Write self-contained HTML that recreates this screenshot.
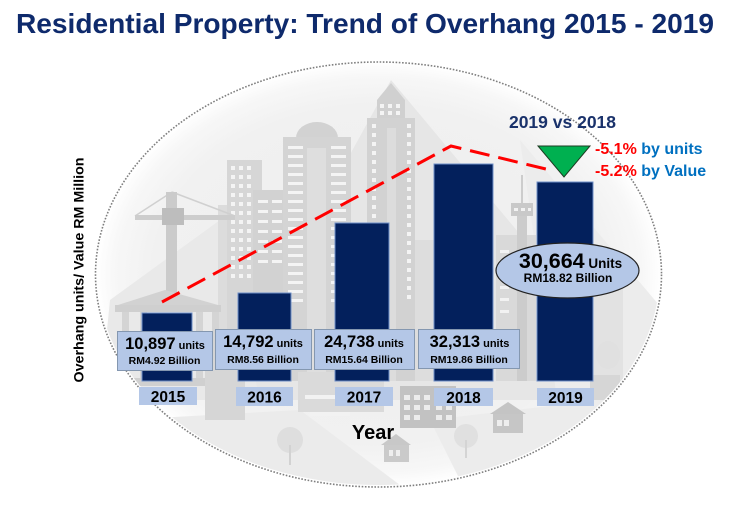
<!DOCTYPE html>
<html>
<head>
<meta charset="utf-8">
<style>
html,body{margin:0;padding:0;background:#ffffff;}
svg{display:block;}
text{font-family:"Liberation Sans",Arial,sans-serif;font-weight:bold;}
</style>
</head>
<body>
<svg width="742" height="506" viewBox="0 0 742 506" xmlns="http://www.w3.org/2000/svg">
<defs>
  <radialGradient id="bg" cx="0.5" cy="0.5" r="0.5">
    <stop offset="0" stop-color="#eeeeee"/>
    <stop offset="0.8" stop-color="#f1f1f1"/>
    <stop offset="0.93" stop-color="#f7f7f7"/>
    <stop offset="1" stop-color="#ffffff"/>
  </radialGradient>
  <clipPath id="clip"><ellipse cx="378.5" cy="274.5" rx="281" ry="210.5"/></clipPath>
</defs>

<!-- title -->
<text x="16" y="33" font-size="28" fill="#0e2a6c" textLength="698" lengthAdjust="spacingAndGlyphs">Residential Property: Trend of Overhang 2015 - 2019</text>

<!-- background ellipse -->
<ellipse cx="378.5" cy="274.5" rx="283" ry="212.5" fill="url(#bg)"/>

<g clip-path="url(#clip)">
  <!-- pale mountain / shadow shapes -->
  <polygon points="391,80 575,300 575,400 220,400 270,300" fill="#e6e6e6"/>
  <polygon points="520,140 680,330 680,420 560,420" fill="#ececec"/>
  <polygon points="110,300 220,220 260,400 100,400" fill="#e9e9e9"/>
  <polygon points="120,420 300,410 420,500 150,500" fill="#ebebeb"/>
  <polygon points="430,420 600,400 640,500 470,500" fill="#ececec"/>

  <!-- left tall building -->
  <rect x="218" y="205" width="24" height="176" fill="#dcdcdc"/>
  <rect x="227" y="160" width="35" height="221" fill="#d6d6d6"/>
  <rect x="253" y="190" width="34" height="191" fill="#d2d2d2"/>
  <g fill="#f4f4f4">
    <rect x="231" y="166" width="4" height="4"/><rect x="239" y="166" width="4" height="4"/><rect x="247" y="166" width="4" height="4"/>
    <rect x="231" y="175" width="4" height="4"/><rect x="239" y="175" width="4" height="4"/><rect x="247" y="175" width="4" height="4"/>
    <rect x="231" y="184" width="4" height="4"/><rect x="239" y="184" width="4" height="4"/><rect x="247" y="184" width="4" height="4"/>
    <rect x="231" y="193" width="4" height="4"/><rect x="239" y="193" width="4" height="4"/><rect x="247" y="193" width="4" height="4"/>
    <rect x="231" y="202" width="4" height="4"/><rect x="239" y="202" width="4" height="4"/><rect x="247" y="202" width="4" height="4"/>
    <rect x="231" y="211" width="4" height="4"/><rect x="239" y="211" width="4" height="4"/><rect x="247" y="211" width="4" height="4"/>
    <rect x="231" y="220" width="4" height="4"/><rect x="239" y="220" width="4" height="4"/><rect x="247" y="220" width="4" height="4"/>
    <rect x="231" y="229" width="4" height="4"/><rect x="239" y="229" width="4" height="4"/><rect x="247" y="229" width="4" height="4"/>
    <rect x="231" y="238" width="4" height="4"/><rect x="239" y="238" width="4" height="4"/><rect x="247" y="238" width="4" height="4"/>
    <rect x="231" y="247" width="4" height="4"/><rect x="239" y="247" width="4" height="4"/><rect x="247" y="247" width="4" height="4"/>
    <rect x="231" y="256" width="4" height="4"/><rect x="239" y="256" width="4" height="4"/><rect x="247" y="256" width="4" height="4"/>
    <rect x="231" y="265" width="4" height="4"/><rect x="239" y="265" width="4" height="4"/><rect x="247" y="265" width="4" height="4"/>
    <rect x="231" y="274" width="4" height="4"/><rect x="239" y="274" width="4" height="4"/><rect x="247" y="274" width="4" height="4"/>
    <rect x="258" y="200" width="10" height="3"/><rect x="272" y="200" width="10" height="3"/>
    <rect x="258" y="210" width="10" height="3"/><rect x="272" y="210" width="10" height="3"/>
    <rect x="258" y="220" width="10" height="3"/><rect x="272" y="220" width="10" height="3"/>
    <rect x="258" y="230" width="10" height="3"/><rect x="272" y="230" width="10" height="3"/>
    <rect x="258" y="240" width="10" height="3"/><rect x="272" y="240" width="10" height="3"/>
    <rect x="258" y="250" width="10" height="3"/><rect x="272" y="250" width="10" height="3"/>
    <rect x="258" y="260" width="10" height="3"/><rect x="272" y="260" width="10" height="3"/>
  </g>

  <!-- dome building -->
  <ellipse cx="317" cy="138" rx="21" ry="16" fill="#d2d2d2"/>
  <rect x="283" y="137" width="68" height="244" fill="#d4d4d4"/>
  <rect x="307" y="148" width="19" height="233" fill="#dedede"/>
  <g fill="#f4f4f4">
    <rect x="288" y="146" width="15" height="3"/><rect x="331" y="146" width="15" height="3"/>
    <rect x="288" y="155" width="15" height="3"/><rect x="331" y="155" width="15" height="3"/>
    <rect x="288" y="164" width="15" height="3"/><rect x="331" y="164" width="15" height="3"/>
    <rect x="288" y="173" width="15" height="3"/><rect x="331" y="173" width="15" height="3"/>
    <rect x="288" y="182" width="15" height="3"/><rect x="331" y="182" width="15" height="3"/>
    <rect x="288" y="191" width="15" height="3"/><rect x="331" y="191" width="15" height="3"/>
    <rect x="288" y="200" width="15" height="3"/><rect x="331" y="200" width="15" height="3"/>
    <rect x="288" y="209" width="15" height="3"/><rect x="331" y="209" width="15" height="3"/>
    <rect x="288" y="218" width="15" height="3"/><rect x="331" y="218" width="15" height="3"/>
    <rect x="288" y="227" width="15" height="3"/><rect x="331" y="227" width="15" height="3"/>
    <rect x="288" y="236" width="15" height="3"/><rect x="331" y="236" width="15" height="3"/>
    <rect x="288" y="245" width="15" height="3"/><rect x="331" y="245" width="15" height="3"/>
    <rect x="288" y="254" width="15" height="3"/><rect x="331" y="254" width="15" height="3"/>
    <rect x="288" y="263" width="15" height="3"/><rect x="331" y="263" width="15" height="3"/>
    <rect x="288" y="272" width="15" height="3"/><rect x="331" y="272" width="15" height="3"/>
    <rect x="288" y="281" width="15" height="3"/><rect x="331" y="281" width="15" height="3"/>
    <rect x="288" y="290" width="15" height="3"/><rect x="331" y="290" width="15" height="3"/>
    <rect x="288" y="299" width="15" height="3"/><rect x="331" y="299" width="15" height="3"/>
  </g>

  <!-- tallest building -->
  <polygon points="377,100 391,83 405,100" fill="#d0d0d0"/>
  <rect x="377" y="100" width="28" height="18" fill="#d0d0d0"/>
  <rect x="367" y="118" width="48" height="263" fill="#d2d2d2"/>
  <rect x="387" y="128" width="9" height="253" fill="#dcdcdc"/>
  <g fill="#f4f4f4">
    <rect x="380" y="104" width="4" height="4"/><rect x="388" y="104" width="4" height="4"/><rect x="396" y="104" width="4" height="4"/>
    <rect x="380" y="111" width="4" height="4"/><rect x="388" y="111" width="4" height="4"/><rect x="396" y="111" width="4" height="4"/>
    <rect x="372" y="124" width="4" height="4"/><rect x="407" y="124" width="4" height="4"/>
    <rect x="372" y="133" width="4" height="4"/><rect x="407" y="133" width="4" height="4"/>
    <rect x="372" y="142" width="4" height="4"/><rect x="407" y="142" width="4" height="4"/>
    <rect x="372" y="151" width="4" height="4"/><rect x="407" y="151" width="4" height="4"/>
    <rect x="372" y="160" width="4" height="4"/><rect x="407" y="160" width="4" height="4"/>
    <rect x="372" y="169" width="4" height="4"/><rect x="407" y="169" width="4" height="4"/>
    <rect x="372" y="178" width="4" height="4"/><rect x="407" y="178" width="4" height="4"/>
    <rect x="372" y="187" width="4" height="4"/><rect x="407" y="187" width="4" height="4"/>
    <rect x="372" y="196" width="4" height="4"/><rect x="407" y="196" width="4" height="4"/>
    <rect x="372" y="205" width="4" height="4"/><rect x="407" y="205" width="4" height="4"/>
    <rect x="372" y="214" width="4" height="4"/><rect x="407" y="214" width="4" height="4"/>
    <rect x="372" y="223" width="4" height="4"/><rect x="407" y="223" width="4" height="4"/>
    <rect x="372" y="232" width="4" height="4"/><rect x="407" y="232" width="4" height="4"/>
    <rect x="372" y="241" width="4" height="4"/><rect x="407" y="241" width="4" height="4"/>
    <rect x="372" y="250" width="4" height="4"/><rect x="407" y="250" width="4" height="4"/>
    <rect x="372" y="259" width="4" height="4"/><rect x="407" y="259" width="4" height="4"/>
    <rect x="372" y="268" width="4" height="4"/><rect x="407" y="268" width="4" height="4"/>
    <rect x="372" y="277" width="4" height="4"/><rect x="407" y="277" width="4" height="4"/>
    <rect x="372" y="286" width="4" height="4"/><rect x="407" y="286" width="4" height="4"/>
    <rect x="372" y="295" width="4" height="4"/><rect x="407" y="295" width="4" height="4"/>
  </g>

  <!-- right side buildings -->
  <rect x="415" y="240" width="22" height="141" fill="#dddddd"/>
  <rect x="496" y="235" width="40" height="146" fill="#d9d9d9"/>
  <line x1="522" y1="175" x2="522" y2="203" stroke="#cccccc" stroke-width="2"/>
  <rect x="511" y="203" width="22" height="13" fill="#c9c9c9"/>
  <rect x="517" y="216" width="10" height="165" fill="#cccccc"/>
  <g fill="#f2f2f2">
    <rect x="514" y="208" width="4" height="3"/><rect x="521" y="208" width="4" height="3"/><rect x="528" y="208" width="3" height="3"/>
    <rect x="500" y="250" width="9" height="3"/><rect x="500" y="262" width="9" height="3"/><rect x="500" y="274" width="9" height="3"/>
    <rect x="500" y="286" width="9" height="3"/><rect x="500" y="298" width="9" height="3"/><rect x="500" y="310" width="9" height="3"/>
  </g>
  <rect x="593" y="255" width="30" height="126" fill="#e2e2e2"/>

  <!-- crane -->
  <line x1="172" y1="192" x2="135" y2="216" stroke="#d0d0d0" stroke-width="1.5"/>
  <line x1="172" y1="192" x2="235" y2="216" stroke="#d0d0d0" stroke-width="1.5"/>
  <rect x="166" y="192" width="11" height="120" fill="#cbcbcb"/>
  <rect x="135" y="215" width="100" height="5" fill="#cdcdcd"/>
  <rect x="162" y="208" width="22" height="17" fill="#bdbdbd"/>

  <!-- classical building -->
  <polygon points="118,305 165,290 218,305" fill="#d2d2d2"/>
  <rect x="115" y="305" width="106" height="7" fill="#cfcfcf"/>
  <g fill="#d4d4d4">
    <rect x="122" y="312" width="7" height="70"/><rect x="140" y="312" width="7" height="70"/>
    <rect x="196" y="312" width="7" height="70"/><rect x="212" y="312" width="7" height="70"/>
  </g>
  <rect x="110" y="378" width="115" height="8" fill="#d0d0d0"/>

  <!-- low buildings bottom -->
  <rect x="205" y="360" width="40" height="60" fill="#d6d6d6"/>
  <rect x="298" y="372" width="86" height="40" fill="#dadada"/>
  <g fill="#f2f2f2">
    <rect x="305" y="395" width="30" height="4"/><rect x="340" y="395" width="30" height="4"/>
    <rect x="310" y="412" width="40" height="4"/>
  </g>
  <rect x="400" y="386" width="56" height="42" fill="#c2c2c2"/>
  <g fill="#ececec">
    <rect x="404" y="395" width="6" height="5"/><rect x="414" y="395" width="6" height="5"/><rect x="424" y="395" width="6" height="5"/>
    <rect x="404" y="405" width="6" height="5"/><rect x="414" y="405" width="6" height="5"/><rect x="424" y="405" width="6" height="5"/><rect x="436" y="405" width="6" height="5"/><rect x="446" y="405" width="6" height="5"/>
    <rect x="404" y="415" width="6" height="5"/><rect x="414" y="415" width="6" height="5"/><rect x="436" y="415" width="6" height="5"/><rect x="446" y="415" width="6" height="5"/>
  </g>
  <!-- houses -->
  <polygon points="490,414 508,402 526,414" fill="#c4c4c4"/>
  <rect x="493" y="414" width="30" height="19" fill="#c6c6c6"/>
  <rect x="497" y="420" width="5" height="6" fill="#eeeeee"/><rect x="504" y="420" width="5" height="6" fill="#eeeeee"/>
  <polygon points="381,445 396,434 411,445" fill="#c8c8c8"/>
  <rect x="384" y="445" width="25" height="17" fill="#cacaca"/>
  <rect x="389" y="450" width="4" height="6" fill="#eeeeee"/><rect x="396" y="450" width="4" height="6" fill="#eeeeee"/>
  <rect x="590" y="375" width="30" height="25" fill="#d6d6d6"/>
  <!-- trees -->
  <ellipse cx="290" cy="440" rx="13" ry="13" fill="#dedede"/>
  <rect x="289" y="445" width="2" height="20" fill="#d2d2d2"/>
  <ellipse cx="466" cy="436" rx="12" ry="12" fill="#e0e0e0"/>
  <rect x="465" y="440" width="2" height="18" fill="#d4d4d4"/>
  <ellipse cx="608" cy="355" rx="12" ry="14" fill="#e0e0e0"/>
  <ellipse cx="122" cy="442" rx="11" ry="11" fill="#e2e2e2"/>
</g>

<!-- dotted border -->
<ellipse cx="378.5" cy="274.5" rx="283" ry="212.5" fill="none" stroke="#7f7f7f" stroke-width="1.6" stroke-dasharray="1.6 1.6"/>

<!-- red dashed trend line -->
<polyline points="162,302 451,146 550,170" fill="none" stroke="#ff0000" stroke-width="3" stroke-dasharray="20 9"/>

<!-- bars -->
<g fill="#03205c" stroke="#6f8fc8" stroke-width="1">
  <rect x="142" y="313" width="50" height="68"/>
  <rect x="238" y="293" width="53" height="88"/>
  <rect x="335" y="223" width="54" height="158"/>
  <rect x="434" y="164" width="59" height="217"/>
  <rect x="537" y="182" width="56" height="199"/>
</g>

<!-- value boxes -->
<g fill="#b4c7e7" stroke="#8497b0" stroke-width="1">
  <rect x="117.5" y="331.5" width="95" height="39"/>
  <rect x="215.5" y="329.5" width="96" height="40"/>
  <rect x="314.5" y="329.5" width="100" height="40"/>
  <rect x="418.5" y="329.5" width="101" height="39"/>
</g>
<g fill="#000000" text-anchor="middle">
  <text x="165" y="349"><tspan font-size="16.5">10,897</tspan><tspan font-size="11"> units</tspan></text>
  <text x="164.5" y="364" font-size="10.5">RM4.92 Billion</text>
  <text x="263" y="347"><tspan font-size="16.5">14,792</tspan><tspan font-size="11"> units</tspan></text>
  <text x="263" y="363" font-size="10.5">RM8.56 Billion</text>
  <text x="364" y="347"><tspan font-size="16.5">24,738</tspan><tspan font-size="11"> units</tspan></text>
  <text x="364" y="363" font-size="10.5">RM15.64 Billion</text>
  <text x="469.5" y="347"><tspan font-size="16.5">32,313</tspan><tspan font-size="11"> units</tspan></text>
  <text x="469" y="363" font-size="10.5">RM19.86 Billion</text>
</g>

<!-- year boxes -->
<g fill="#b4c7e7">
  <rect x="139" y="387" width="58" height="18"/>
  <rect x="236" y="387" width="57" height="19"/>
  <rect x="335" y="387" width="58" height="19"/>
  <rect x="434" y="388" width="59" height="18"/>
  <rect x="537" y="388" width="57" height="18"/>
</g>
<g fill="#000000" text-anchor="middle" font-size="15.5">
  <text x="168" y="402">2015</text>
  <text x="264.5" y="402.5">2016</text>
  <text x="364" y="402.5">2017</text>
  <text x="463.5" y="403">2018</text>
  <text x="565.5" y="403">2019</text>
</g>

<!-- axis labels -->
<text x="373" y="439" font-size="20" fill="#000000" text-anchor="middle">Year</text>
<text transform="translate(83.5,270) rotate(-90)" font-size="13.5" fill="#000000" text-anchor="middle" textLength="225" lengthAdjust="spacingAndGlyphs">Overhang units/ Value RM Million</text>

<!-- 2019 ellipse label -->
<ellipse cx="567.5" cy="270.5" rx="71.5" ry="27.5" fill="#b4c7e7" stroke="#222222" stroke-width="1.2"/>
<text x="570.5" y="268" text-anchor="middle" fill="#000000"><tspan font-size="21.5">30,664</tspan><tspan font-size="13.5"> Units</tspan></text>
<text x="568" y="282" text-anchor="middle" font-size="12" fill="#000000">RM18.82 Billion</text>

<!-- comparison -->
<text x="562.5" y="128" text-anchor="middle" font-size="17.5" fill="#1a326b">2019 vs 2018</text>
<polygon points="538,146 590,146 564,177" fill="#00b050" stroke="#1d3b22" stroke-width="1"/>
<text x="595" y="154" font-size="16"><tspan fill="#ff0000">-5.1%</tspan><tspan fill="#0070c0"> by units</tspan></text>
<text x="595" y="176" font-size="16"><tspan fill="#ff0000">-5.2%</tspan><tspan fill="#0070c0"> by Value</tspan></text>
</svg>
</body>
</html>
